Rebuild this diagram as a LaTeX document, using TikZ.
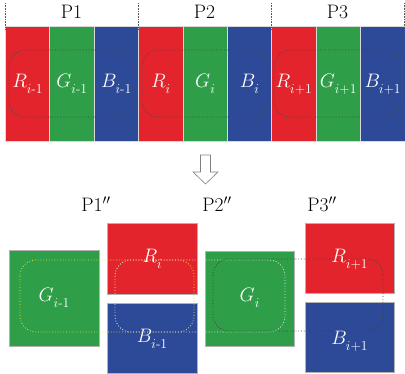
\RequirePackage{fix-cm}
\documentclass[tikz,border=0pt]{standalone}
\usepackage{amsmath}
\definecolor{cR}{RGB}{228,36,44}
\definecolor{cG}{RGB}{46,158,72}
\definecolor{cB}{RGB}{44,74,152}
\definecolor{cY}{RGB}{235,225,40}
\newcommand\lsub[1]{_{\lower3pt\hbox{$\scriptstyle #1$}}}
\tikzset{
  big/.style={font=\fontsize{19.5}{23}\selectfont},
  stripe/.style={anchor=north west, minimum width=44.4pt, minimum height=115pt, inner sep=0pt, draw=gray!30, line width=0.9pt},
  blk/.style={anchor=north west, inner sep=0pt, draw=gray!60, line width=0.6pt},
  lab/.style={big, text=white, anchor=base, inner sep=0pt},
  ptitle/.style={big, anchor=base, inner sep=0pt},
  grp/.style={dotted, line width=0.8pt, rounded corners=16pt},
  sep/.style={densely dotted, line width=0.6pt, draw=gray!70!black},
}
\begin{document}
\begin{tikzpicture}[x=1pt,y=-1pt]
\useasboundingbox (0,0) rectangle (405,374);
% top stripes
\foreach \c/\n [count=\k from 0] in {cR/r1,cG/g1,cB/b1,cR/r2,cG/g2,cB/b2,cR/r3,cG/g3,cB/b3}{
  \node[stripe, fill=\c] (\n) at (5+\k*44.4,26) {};
}
% separators and titles
\foreach \x/\n in {5/s0,138/s1,271/s2,404/s3}{
  \coordinate (\n t) at (\x,3);
  \coordinate (\n b) at (\x,30);
  \draw[sep] (\n t) -- (\n b);
}
\node[ptitle] (p1) at (71.5,19) {P1};
\node[ptitle] (p2) at (204.5,19) {P2};
\node[ptitle] (p3) at (337.5,19) {P3};
% top labels
\node[lab] (lr1) at (r1.center |- 0,88) {$R\lsub{i\text{-}1}$};
\node[lab] (lg1) at (g1.center |- 0,88) {$G\lsub{i\text{-}1}$};
\node[lab] (lb1) at (b1.center |- 0,88) {$B\lsub{i\text{-}1}$};
\node[lab] (lr2) at (r2.center |- 0,88) {$R\lsub{i}$};
\node[lab] (lg2) at (g2.center |- 0,88) {$G\lsub{i}$};
\node[lab] (lb2) at (b2.center |- 0,88) {$B\lsub{i}$};
\node[lab] (lr3) at (r3.center |- 0,88) {$R\lsub{i+1}$};
\node[lab] (lg3) at (g3.center |- 0,88) {$G\lsub{i+1}$};
\node[lab] (lb3) at (b3.center |- 0,88) {$B\lsub{i+1}$};
% top groups
\draw[grp, draw=gray!55!black] (9,50) rectangle (135,117);
\draw[grp, draw=gray!55!black] (142,50) rectangle (268,117);
\draw[grp, draw=gray!55!black] (274,50) rectangle (400,117);
% arrow
\draw[gray, line width=0.6pt, fill=white] (200.5,155) -- (210.5,155) -- (210.5,172) -- (218,172) -- (205.5,184) -- (193,172) -- (200.5,172) -- cycle;
% bottom titles
\node[ptitle] (q1) at (96,212) {P1$''$};
\node[ptitle] (q2) at (217,212) {P2$''$};
\node[ptitle] (q3) at (322,212) {P3$''$};
% bottom blocks
\node[blk, fill=cG, minimum width=90pt, minimum height=96pt] (G1) at (9,250) {};
\node[blk, fill=cR, minimum width=90pt, minimum height=71pt] (R2) at (107,223) {};
\node[blk, fill=cB, minimum width=90pt, minimum height=70pt] (B1) at (107,303) {};
\node[blk, fill=cG, minimum width=89pt, minimum height=95pt] (G2) at (205,251) {};
\node[blk, fill=cR, minimum width=89pt, minimum height=70pt] (R3) at (305,223) {};
\node[blk, fill=cB, minimum width=89pt, minimum height=70pt] (B3) at (305,302) {};
% bottom labels
\node[lab] (lG1) at (G1.center |- 0,302) {$G\lsub{i\text{-}1}$};
\node[lab] (lR2) at (R2.center |- 0,263) {$R\lsub{i}$};
\node[lab] (lB1) at (B1.center |- 0,343) {$B\lsub{i\text{-}1}$};
\node[lab] (lG2) at (G2.center |- 0,302) {$G\lsub{i}$};
\node[lab] (lR3) at (R3.center |- 0,263) {$R\lsub{i+1}$};
\node[lab] (lB3) at (B3.center |- 0,345) {$B\lsub{i+1}$};
% bottom groups
\draw[grp, draw=cY] (20,260) rectangle (194,332);
\draw[grp, draw=white!85!gray] (115,260) rectangle (285,332);
\draw[grp, draw=gray!50!black] (213,259) rectangle (383,331);
\end{tikzpicture}
\end{document}
